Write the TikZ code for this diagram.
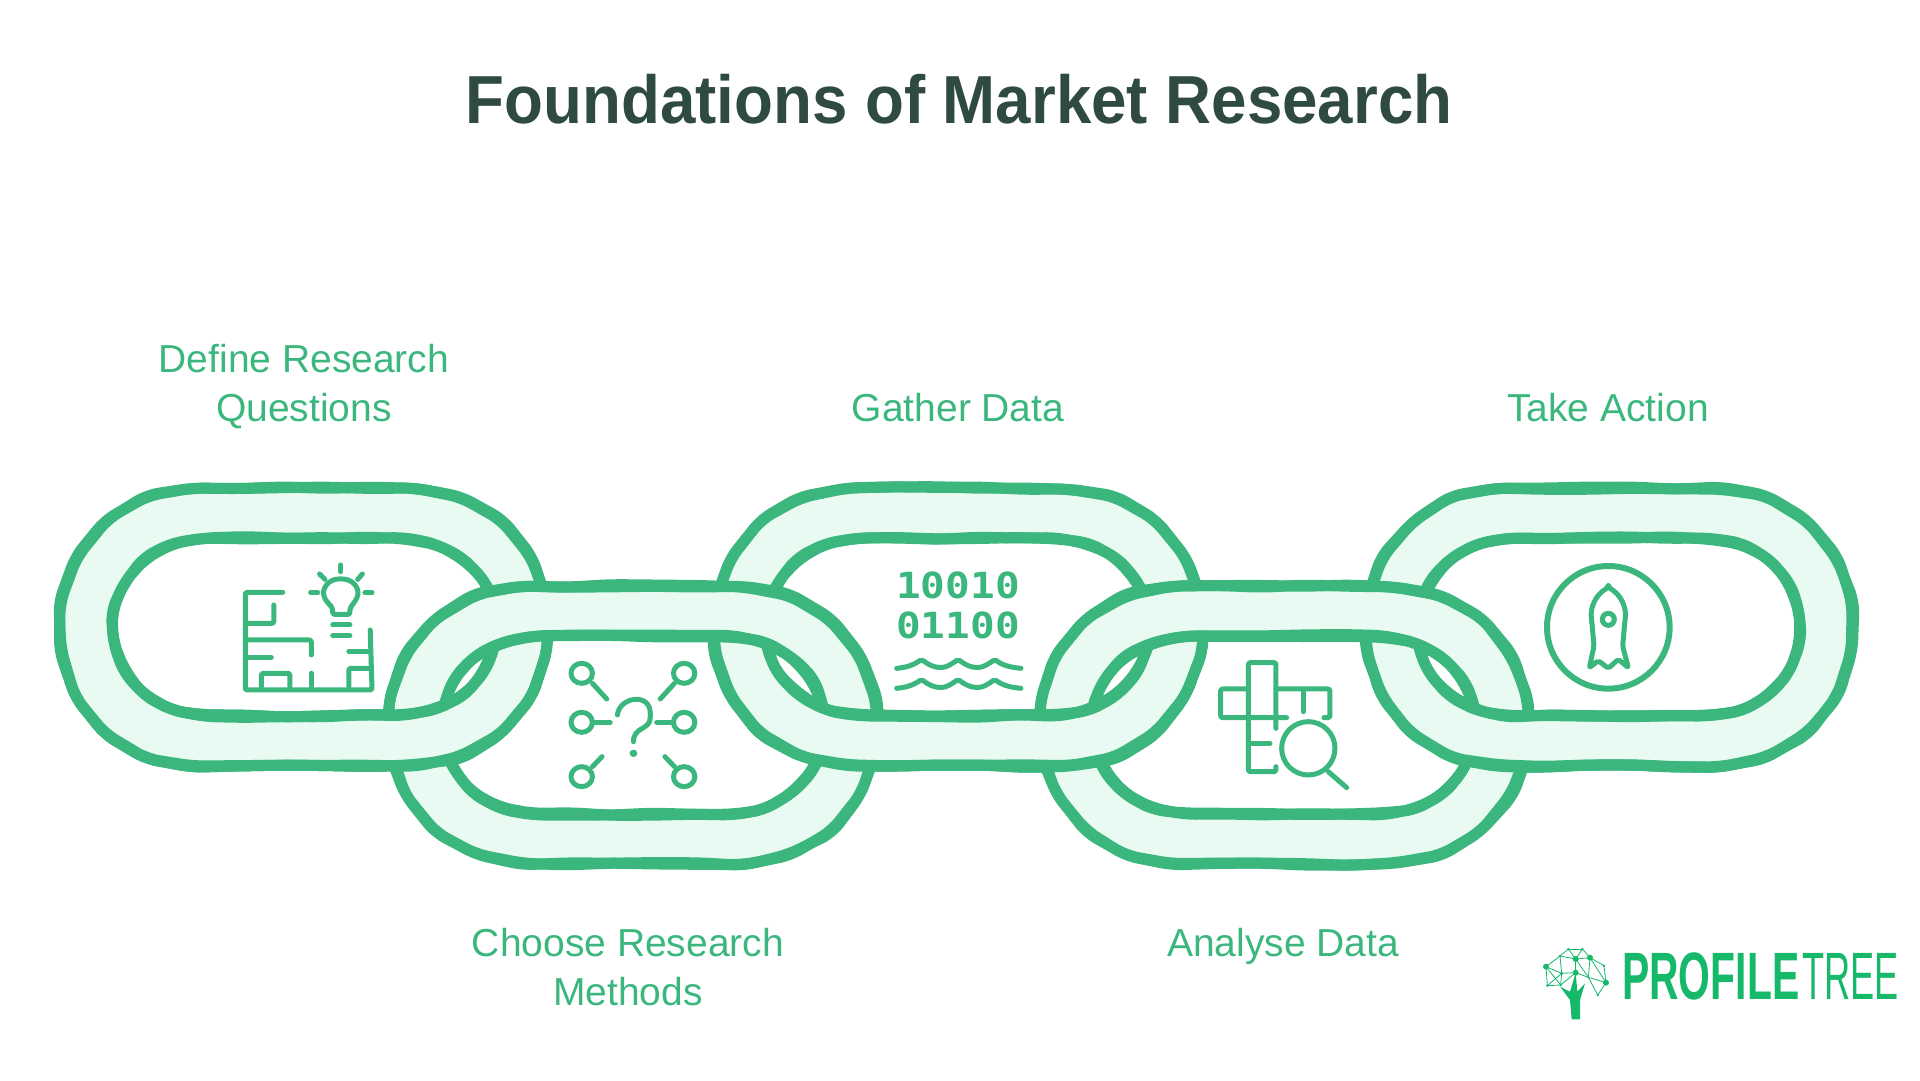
\documentclass[tikz,border=0pt]{standalone}
\usepackage{fontspec}
\setmainfont{Liberation Sans}
\newfontfamily\monofont{DejaVu Sans Mono}

\definecolor{chain}{HTML}{3BB77E}
\definecolor{mint}{HTML}{E8FAF2}
\definecolor{heading}{HTML}{2F4A40}
\definecolor{logo}{HTML}{16B86A}

\tikzset{
	linkline/.style = {draw = chain, line width = 11 pt, line join = round, rounded corners = 12 pt},
	icon/.style = {draw = chain, line width = 5 pt, line cap = round, line join = round, rounded corners = 2 pt},
	label/.style = {text = chain, font = \fontsize{39}{49}\selectfont, align = center},
}

% Wobbly outline of a link: centre x, centre y, half straight, corner rx, corner ry
\newcommand{\linkpath}[5]{
	({#1 - #3}, {#2 - #5})
	\foreach \s in {-0.6, -0.2, 0.2, 0.6, 1} { -- ({#1 + #3 * \s + 2 * rnd - 1}, {#2 - #5 + 3 * rnd - 1.5}) }
	\foreach \t in {-70, -50, ..., 70} { -- ({#1 + #3 + #4 * cos(\t) + 3 * rnd - 1.5}, {#2 + #5 * sin(\t) + 3 * rnd - 1.5}) }
	\foreach \s in {1, 0.6, 0.2, -0.2, -0.6, -1} { -- ({#1 + #3 * \s + 2 * rnd - 1}, {#2 + #5 + 3 * rnd - 1.5}) }
	\foreach \t in {110, 130, ..., 250} { -- ({#1 - #3 + #4 * cos(\t) + 3 * rnd - 1.5}, {#2 + #5 * sin(\t) + 3 * rnd - 1.5}) }
	-- cycle
}

% One chain link: centre x, centre y, seed
\newcommand{\chainlink}[3]{
	\pgfmathsetseed{#3}
	\fill [mint, even odd rule, rounded corners = 12 pt] \linkpath{#1}{#2}{111}{135}{139} \linkpath{#1}{#2}{100}{93}{89};
	\foreach \k in {0, 50} {
		\pgfmathsetseed{#3 + \k}
		\draw [linkline] \linkpath{#1}{#2}{111}{135}{139};
		\draw [linkline] \linkpath{#1}{#2}{100}{93}{89};
	}
}

\begin{document}
\begin{tikzpicture}[x = 1 pt, y = -1 pt]

	\useasboundingbox (0, 0) rectangle (1920, 1080);

	% Title
	
	\node (title) [text = heading, xscale = 0.936, transform shape, font = \fontsize{68}{68}\selectfont\bfseries] at (959, 99) {Foundations of Market Research};
	
	% Links in the upper row, then the lower row on top of them
	
	\chainlink{304}{627}{11}
	\chainlink{958}{627}{13}
	\chainlink{1609}{627}{15}
	\chainlink{633}{725}{12}
	\chainlink{1284}{725}{14}
	
	% Bottom bands of the upper row pass over the lower row again
	
	\begin{scope}
		\clip (0, 682) rectangle (1920, 800);
		\chainlink{304}{627}{11}
		\chainlink{958}{627}{13}
		\chainlink{1609}{627}{15}
	\end{scope}
	
	% Labels
	
	\node (define) [label] at (304, 387) {Define Research\\Questions};
	\node (gather) [label] at (958, 408) {Gather Data};
	\node (action) [label] at (1608, 408) {Take Action};
	\node (choose) [label] at (628, 967) {Choose Research\\Methods};
	\node (analyse) [label] at (1283, 946) {Analyse Data};
	
	% Maze and bulb
	
	\begin{scope}[shift = {(40, 460)}, x = 0.357 pt, y = -0.3333 pt]
		\draw [icon] (680, 397) -- (575, 397) -- (575, 690) -- (930, 690) -- (925, 510);
		\draw [icon] (575, 490) -- (655, 490) -- (655, 435);
		\draw [icon] (575, 540) -- (760, 540) -- (760, 585);
		\draw [icon] (575, 592) -- (648, 592);
		\draw [icon] (925, 575) -- (865, 575);
		\draw [icon] (925, 625) -- (865, 625) -- (865, 680);
		\draw [icon] (620, 680) -- (620, 640) -- (700, 640) -- (700, 680);
		\draw [icon] (760, 640) -- (760, 680);
		\draw [icon] (820, 463) -- (820, 445) -- (800, 420) .. controls (785, 385) and (810, 357) .. (842, 357) .. controls (875, 357) and (900, 385) .. (885, 420) -- (868, 445) -- (868, 463) -- cycle;
		\draw [icon] (843, 315) -- (843, 335);
		\draw [icon] (783, 342) -- (798, 358);
		\draw [icon] (903, 342) -- (890, 358);
		\draw [icon] (758, 398) -- (778, 398);
		\draw [icon] (910, 398) -- (930, 398);
		\draw [icon] (820, 495) -- (868, 495);
		\draw [icon] (820, 527) -- (868, 527);
	\end{scope}
	
	% Network around a question mark
	
	\begin{scope}[shift = {(380, 540)}, x = 0.357 pt, y = -0.3333 pt]
		\foreach \cx in {565, 852} {
			\foreach \cy in {400, 547, 710} {
				\draw [icon] (\cx, \cy) circle (30);
			}
		}
		\draw [icon] (595, 430) -- (635, 477);
		\draw [icon] (825, 430) -- (785, 477);
		\draw [icon] (600, 547) -- (645, 547);
		\draw [icon] (775, 547) -- (820, 547);
		\draw [icon] (595, 680) -- (622, 650);
		\draw [icon] (825, 680) -- (798, 650);
		\draw [icon] (665, 525) .. controls (670, 470) and (760, 455) .. (757, 530) .. controls (755, 570) and (710, 560) .. (710, 605);
		\fill [chain] (710, 640) circle (11);
	\end{scope}
	
	% Binary digits and waves
	
	\node (bits) [text = chain, xscale = 1.14, transform shape, font = \fontsize{36}{40}\selectfont\monofont\bfseries, align = center] at (958, 605) {10010\\01100};
	\begin{scope}[shift = {(880, 560)}, x = 0.3333 pt, y = -0.3333 pt]
		\foreach \wy in {0, 60} {
			\draw [icon] (50, 325 + \wy) .. controls (85, 322 + \wy) and (105, 312 + \wy) .. (125, 298 + \wy) .. controls (145, 315 + \wy) and (165, 322 + \wy) .. (182, 322 + \wy) .. controls (200, 322 + \wy) and (218, 310 + \wy) .. (235, 298 + \wy) .. controls (255, 315 + \wy) and (275, 322 + \wy) .. (292, 322 + \wy) .. controls (310, 322 + \wy) and (328, 310 + \wy) .. (345, 298 + \wy) .. controls (365, 315 + \wy) and (390, 322 + \wy) .. (423, 325 + \wy);
		}
	\end{scope}
	
	% Crossword and magnifier
	
	\begin{scope}[shift = {(1040, 540)}, x = 0.3333 pt, y = -0.3333 pt]
		\draw [icon] (625, 447) -- (625, 368) -- (708, 368) -- (708, 565);
		\draw [icon] (708, 447) -- (870, 447) -- (870, 533) -- (852, 533);
		\draw [icon] (625, 447) -- (542, 447) -- (542, 533) -- (740, 533);
		\draw [icon] (790, 450) -- (790, 515);
		\draw [icon] (625, 447) -- (625, 695) -- (708, 695) -- (708, 680);
		\draw [icon] (625, 610) -- (690, 610);
		\draw [icon] (805, 625) circle (80);
		\draw [icon] (865, 695) -- (920, 743);
	\end{scope}
	
	% Rocket in a circle
	
	\begin{scope}[shift = {(1480, 540)}, x = 0.3333 pt, y = -0.3333 pt]
		\draw [icon, line width = 6 pt] (385, 262) circle (184);
		\draw [icon] (385, 142) .. controls (345, 165) and (330, 205) .. (335, 240) -- (342, 318) -- (328, 383) -- (355, 362) -- (385, 385) -- (415, 358) -- (445, 383) -- (428, 318) -- (435, 240) .. controls (440, 205) and (425, 165) .. cycle;
		\draw [icon] (385, 238) circle (18);
	\end{scope}
	
	% Logo
	
	\begin{scope}[shift = {(1520, 920)}, x = 0.3333 pt, y = -0.3333 pt]
		\foreach \tname/\tx/\ty/\tr in {a/78/140/9, b/145/87/4, c/187/87/4, d/120/108/4, e/167/117/9, f/210/113/9, g/252/137/4, h/125/160/5, i/167/158/9, j/82/197/4, k/122/195/4, l/205/172/3, m/258/188/9, n/233/225/4} {
			\coordinate (\tname) at (\tx, \ty);
			\fill [logo] (\tx, \ty) circle (\tr);
		}
		\foreach \ta/\tb in {a/d, a/h, a/j, a/k, b/c, b/d, b/e, c/e, c/f, d/e, d/h, e/f, e/i, e/l, f/g, f/l, f/m, g/m, h/i, h/j, h/k, i/k, i/l, l/n, l/m, m/n, j/k} {
			\draw [logo, line width = 0.8 pt] (\ta) -- (\tb);
		}
		\fill [logo] (155, 298) -- (150, 240) -- (120, 200) -- (150, 215) -- (167, 158) -- (172, 215) -- (195, 190) -- (180, 240) -- (180, 298) -- cycle;
	\end{scope}
	\node (profile) [anchor = west, inner sep = 0 pt, text = logo, xscale = 0.61, transform shape, font = \fontsize{67}{67}\selectfont\bfseries] at (1622, 976) {PROFILE};
	\node (tree) [anchor = west, inner sep = 0 pt, text = logo, xscale = 0.54, transform shape, font = \fontsize{67}{67}\selectfont] at (1802, 976) {TREE};

\end{tikzpicture}
\end{document}
